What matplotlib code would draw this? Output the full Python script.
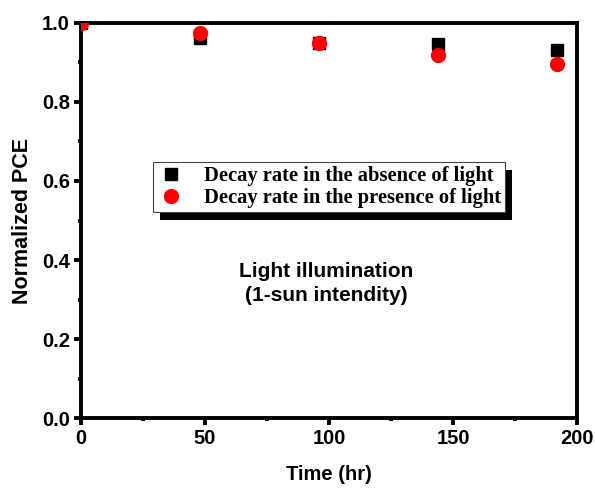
import matplotlib
matplotlib.use("Agg")
import matplotlib.pyplot as plt
from matplotlib.patches import Rectangle
from matplotlib.transforms import IdentityTransform
from matplotlib.ticker import MultipleLocator, FormatStrFormatter

time_hr = [0, 48, 96, 144, 192]
pce_dark = [1.0, 0.962, 0.949, 0.946, 0.932]
pce_light = [1.0, 0.975, 0.950, 0.919, 0.896]
label_dark = "Decay rate in the absence of light"
label_light = "Decay rate in the presence of light"
annotation = "Light illumination\n(1-sun intendity)"

fig = plt.figure(figsize=(5.95, 4.88), dpi=100)
ax = fig.add_axes([0.136, 0.1434, 0.834, 0.8095])

ax.plot(time_hr, pce_dark, linestyle="none", marker="s", markersize=9,
        color="black", label=label_dark, zorder=3)
ax.plot(time_hr, pce_light, linestyle="none", marker="o", markersize=10,
        color="red", label=label_light, zorder=4)

ax.set_xlim(0, 200)
ax.set_ylim(0, 1.0)
ax.xaxis.set_major_locator(MultipleLocator(50))
ax.xaxis.set_minor_locator(MultipleLocator(25))
ax.yaxis.set_major_locator(MultipleLocator(0.2))
ax.yaxis.set_minor_locator(MultipleLocator(0.1))
ax.yaxis.set_major_formatter(FormatStrFormatter("%.1f"))

for s in ax.spines.values():
    s.set_linewidth(2.8)
ax.tick_params(which="major", direction="out", length=5, width=2.8,
               labelsize=14.5, pad=3)
ax.tick_params(which="minor", direction="out", length=2.5, width=2.8)
for lbl in ax.get_xticklabels() + ax.get_yticklabels():
    lbl.set_fontweight("bold")
    lbl.set_family("Liberation Sans")

ax.set_xlabel("Time (hr)", fontsize=14.5, fontweight="bold",
              family="Liberation Sans", labelpad=12)
ax.set_ylabel("Normalized PCE", fontsize=15.5, fontweight="bold",
              family="Liberation Sans", labelpad=6)

leg = ax.legend(loc="upper left", bbox_to_anchor=(0.145, 0.648),
                prop={"family": "Liberation Serif", "weight": "bold", "size": 14.8},
                frameon=True, fancybox=False, edgecolor="#444444",
                facecolor="white", framealpha=1,
                borderpad=0.2, labelspacing=0.1, handletextpad=0.9,
                handlelength=1.4, borderaxespad=0)
leg.get_frame().set_linewidth(0.8)
leg.set_zorder(6)

ax.text(0.495, 0.34, annotation, transform=ax.transAxes, ha="center",
        va="center", fontsize=15, fontweight="bold", family="Liberation Sans",
        linespacing=1.3)

fig.canvas.draw()
bb = leg.get_window_extent()
shadow = Rectangle((bb.x0 + 7, bb.y0 - 8), bb.width, bb.height,
                   transform=IdentityTransform(), facecolor="black",
                   edgecolor="none", zorder=5.5)
ax.add_artist(shadow)

fig.savefig("out.png", dpi=100)
